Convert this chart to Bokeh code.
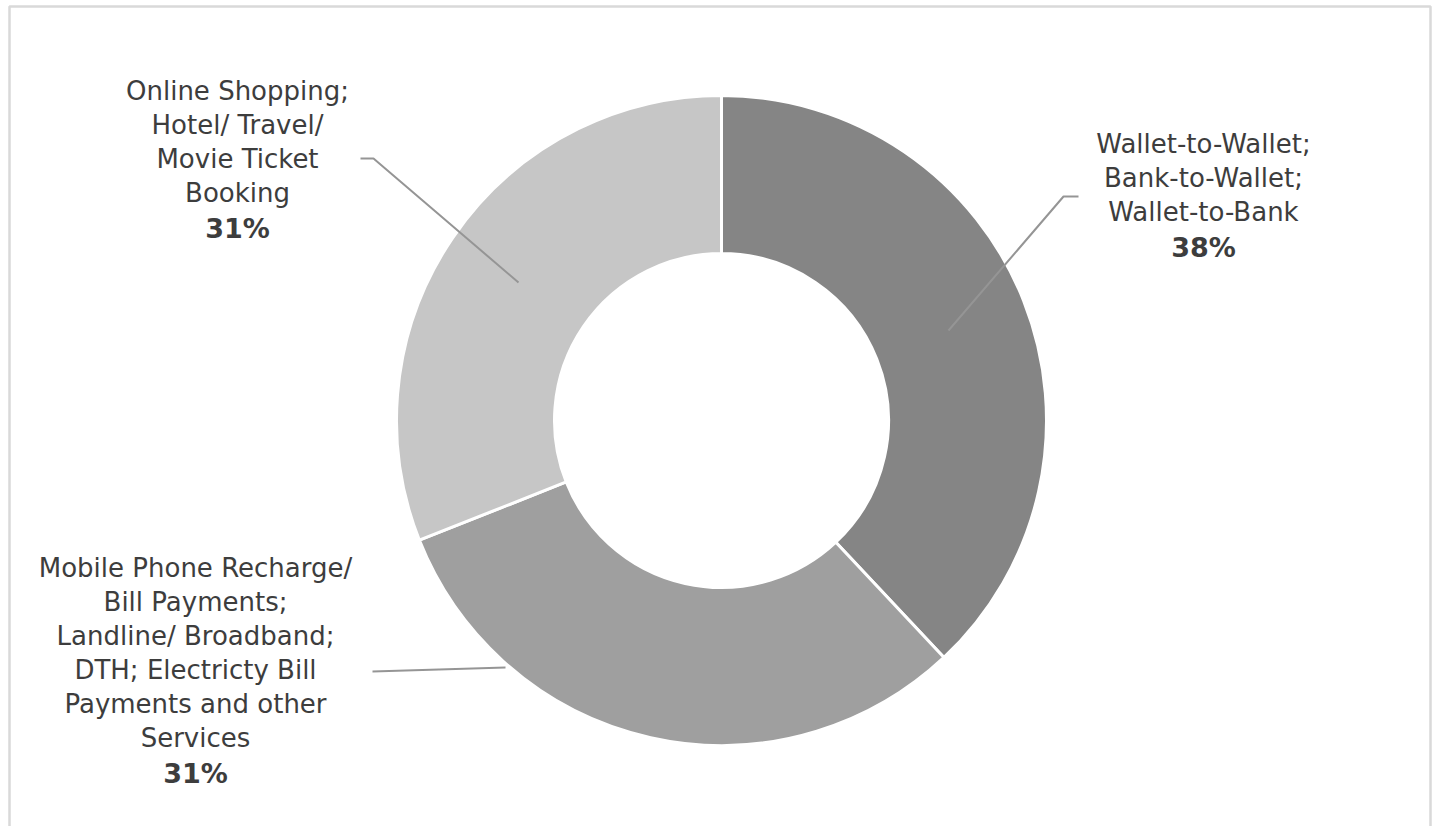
import math
from bokeh.plotting import figure
from bokeh.models import ColumnDataSource, Range1d
from bokeh.core.properties import value
from bokeh.embed import file_html
from bokeh.resources import INLINE

# ---- data ----
categories = [
    "Wallet-to-Wallet; Bank-to-Wallet; Wallet-to-Bank",
    "Mobile Phone Recharge/ Bill Payments; Landline/ Broadband; DTH; Electricty Bill Payments and other Services",
    "Online Shopping; Hotel/ Travel/ Movie Ticket Booking",
]
label_lines = [
    ["Wallet-to-Wallet;", "Bank-to-Wallet;", "Wallet-to-Bank"],
    ["Mobile Phone Recharge/", "Bill Payments;", "Landline/ Broadband;",
     "DTH; Electricty Bill", "Payments and other", "Services"],
    ["Online Shopping;", "Hotel/ Travel/", "Movie Ticket", "Booking"],
]
shares = [38, 31, 31]
colors = ["#858585", "#9f9f9f", "#c6c6c6"]

# ---- layout (pixel-like data space, donut centre at 0,0) ----
W, H = 1432, 826
p = figure(width=W, height=H, output_backend="svg", toolbar_location=None,
           x_range=Range1d(-721, W - 721), y_range=Range1d(420 - H, 420),
           min_border=0, background_fill_color="white", border_fill_color="white")
p.axis.visible = False
p.grid.visible = False
p.outline_line_color = None

# chart frame (left, top, right sides)
p.line([-712, -712, 709, 709], [-420, 414, 414, -420], line_color="#d9d9d9", line_width=2.5)

total = sum(shares)
starts, ends = [], []
cum = 0.0
for s in shares:
    a0 = math.pi / 2 - 2 * math.pi * cum / total
    cum += s
    a1 = math.pi / 2 - 2 * math.pi * cum / total
    starts.append(a1)
    ends.append(a0)

src = ColumnDataSource(dict(cat=categories, start=starts, end=ends, color=colors))
p.annular_wedge(x=0, y=0, inner_radius=167, outer_radius=325,
                start_angle="start", end_angle="end", direction="anticlock",
                fill_color="color", line_color="white", line_width=3, source=src)

# leader lines (layout)
leaders = [
    ([357, 342, 227], [224, 224, 90]),
    ([-349, -216], [-251, -247]),
    ([-361, -348, -203], [262, 262, 138]),
]
for xs, ys in leaders:
    p.line(xs, ys, line_color="#959595", line_width=2)

# label anchors: centre x, y of first line
anchors = [(482, 277), (-526, -147), (-484, 330)]
line_gap = 34
tx, ty, tt = [], [], []
px, py, pt = [], [], []
for (ax, ay), lines, s in zip(anchors, label_lines, shares):
    for i, ln in enumerate(lines):
        tx.append(ax)
        ty.append(ay - i * line_gap)
        tt.append(ln)
    px.append(ax)
    py.append(ay - (len(lines) - 1) * line_gap - 36)
    pt.append(f"{s}%")

p.text(x=tx, y=ty, text=tt, text_font=value("DejaVu Sans"), text_font_size="26px",
       text_align="center", text_baseline="middle", text_color="#3d3d3d")
p.text(x=px, y=py, text=pt, text_font=value("DejaVu Sans"), text_font_size="27px",
       text_font_style="bold", text_align="center", text_baseline="middle",
       text_color="#3d3d3d")

open("out.html", "w").write(file_html(p, INLINE))
